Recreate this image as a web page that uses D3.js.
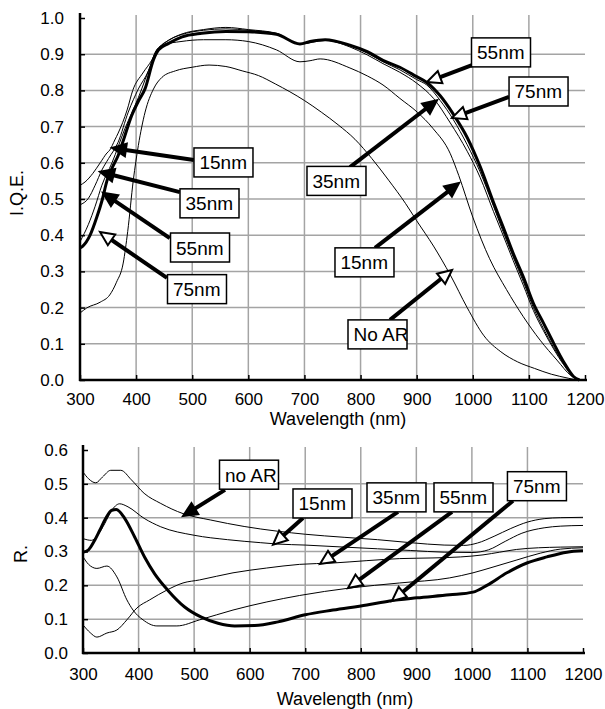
<!DOCTYPE html>
<html>
<head>
<meta charset="utf-8">
<script src="https://cdn.jsdelivr.net/npm/d3@7"></script>
<style>
    body { margin: 0; background: #fff; }
    svg { display: block; font-family: "Liberation Sans", Arial, sans-serif; }
    .grid { stroke: #a4a4a4; stroke-width: 1.5; }
    .axisline { stroke: #000; stroke-width: 2.5; }
    .curve { fill: none; stroke: #000; stroke-linejoin: round; }
    .tick line { stroke: #000; stroke-width: 1.5; }
    .tick text { fill: #000; }
    .note rect { fill: #fff; stroke: #000; stroke-width: 1.5; }
    .note line { stroke: #000; stroke-width: 4; }
</style>
</head>
<body>
<svg id="chart" width="605" height="709"></svg>
<script>

// ---------- data ----------
var wlTicks = [300, 400, 500, 600, 700, 800, 900, 1000, 1100, 1200];
var iqeTicks = [0, 0.1, 0.2, 0.3, 0.4, 0.5, 0.6, 0.7, 0.8, 0.9, 1.0];
var reflTicks = [0, 0.1, 0.2, 0.3, 0.4, 0.5, 0.6];

// internal quantum efficiency, [wavelength nm, IQE]
var iqeNoAR = [[300,0.185],[312,0.199],[336,0.215],[353,0.235],[365,0.27],[377,0.323],[385,0.41],[395,0.552],[404,0.648],[416,0.74],[431,0.804],[446,0.836],[470,0.854],[500,0.864],[530,0.87],[560,0.866],[589,0.854],[618,0.841],[648,0.818],[700,0.772],[730,0.74],[760,0.705],[790,0.665],[820,0.612],[850,0.552],[880,0.488],[900,0.44],[930,0.37],[960,0.29],[990,0.2],[1020,0.122],[1050,0.078],[1080,0.05],[1110,0.032],[1140,0.016],[1170,0.005],[1185,0]];
var iqe15 = [[300,0.538],[309,0.547],[323,0.571],[336,0.6],[348,0.627],[353,0.635],[362,0.663],[368,0.682],[384,0.746],[394,0.8],[412,0.848],[428,0.884],[437,0.912],[450,0.926],[480,0.935],[520,0.94],[560,0.94],[600,0.935],[650,0.912],[692,0.879],[710,0.882],[728,0.887],[781,0.862],[812,0.84],[840,0.815],[870,0.778],[901,0.74],[929,0.695],[960,0.625],[975,0.565],[1000,0.45],[1030,0.335],[1060,0.25],[1090,0.175],[1120,0.11],[1150,0.055],[1175,0.012],[1188,0]];
var iqe35 = [[300,0.484],[315,0.502],[327,0.538],[339,0.58],[351,0.612],[368,0.657],[386,0.74],[404,0.804],[422,0.854],[434,0.905],[450,0.93],[480,0.955],[520,0.968],[560,0.974],[600,0.968],[650,0.958],[692,0.928],[737,0.938],[781,0.92],[812,0.898],[840,0.874],[870,0.85],[900,0.82],[930,0.778],[960,0.71],[990,0.632],[1013,0.56],[1037,0.465],[1054,0.4],[1072,0.33],[1090,0.262],[1108,0.192],[1126,0.136],[1144,0.086],[1162,0.042],[1180,0.008],[1190,0]];
var iqe55 = [[300,0.382],[315,0.43],[327,0.48],[339,0.538],[357,0.6],[380,0.694],[404,0.78],[428,0.877],[440,0.915],[460,0.94],[490,0.958],[520,0.966],[560,0.97],[600,0.966],[650,0.957],[692,0.929],[737,0.94],[781,0.923],[812,0.903],[840,0.879],[870,0.857],[900,0.83],[918,0.815],[942,0.772],[965,0.72],[990,0.65],[1013,0.575],[1037,0.48],[1054,0.41],[1072,0.34],[1090,0.272],[1108,0.2],[1126,0.142],[1144,0.09],[1162,0.045],[1180,0.008],[1190,0]];
var iqe75 = [[300,0.365],[305,0.37],[318,0.4],[330,0.45],[340,0.5],[348,0.55],[357,0.585],[368,0.62],[380,0.675],[392,0.73],[404,0.77],[416,0.805],[431,0.885],[440,0.912],[458,0.93],[482,0.948],[517,0.958],[560,0.963],[600,0.962],[650,0.955],[692,0.928],[710,0.935],[737,0.94],[781,0.925],[812,0.907],[840,0.883],[870,0.864],[900,0.838],[918,0.822],[942,0.785],[965,0.735],[990,0.67],[1013,0.59],[1037,0.49],[1054,0.423],[1072,0.35],[1090,0.285],[1108,0.212],[1126,0.157],[1144,0.102],[1162,0.05],[1180,0.009],[1190,0]];

// reflectance, [wavelength nm, R]
var rNoAR = [[300,0.535],[310,0.515],[323,0.503],[335,0.52],[350,0.54],[368,0.54],[387,0.512],[410,0.472],[440,0.442],[480,0.412],[530,0.393],[590,0.374],[650,0.36],[700,0.351],[770,0.342],[830,0.335],[890,0.326],[950,0.319],[985,0.318],[1010,0.325],[1040,0.345],[1070,0.368],[1100,0.387],[1130,0.397],[1160,0.4],[1200,0.401]];
var r15 = [[300,0.338],[315,0.333],[328,0.352],[339,0.382],[351,0.42],[366,0.441],[381,0.432],[410,0.398],[440,0.373],[500,0.348],[560,0.335],[620,0.326],[650,0.322],[700,0.319],[770,0.313],[830,0.308],[890,0.303],[950,0.298],[1000,0.297],[1030,0.305],[1060,0.33],[1090,0.354],[1130,0.37],[1160,0.375],[1200,0.377]];
var r35 = [[300,0.083],[313,0.06],[325,0.047],[343,0.059],[361,0.068],[379,0.098],[397,0.133],[420,0.157],[451,0.186],[480,0.207],[510,0.216],[570,0.237],[630,0.251],[690,0.262],[750,0.266],[811,0.273],[870,0.279],[930,0.281],[980,0.284],[1020,0.29],[1050,0.298],[1080,0.306],[1120,0.311],[1160,0.313],[1200,0.314]];
var r55 = [[300,0.285],[310,0.262],[325,0.25],[343,0.257],[361,0.225],[379,0.157],[390,0.127],[408,0.098],[433,0.08],[469,0.08],[510,0.098],[570,0.127],[631,0.151],[690,0.17],[780,0.192],[870,0.207],[960,0.222],[1002,0.237],[1038,0.254],[1081,0.275],[1123,0.295],[1159,0.307],[1200,0.311]];
var r75 = [[300,0.298],[310,0.305],[320,0.33],[330,0.362],[340,0.395],[352,0.422],[360,0.424],[375,0.398],[393,0.343],[411,0.283],[429,0.234],[453,0.185],[483,0.136],[513,0.106],[543,0.088],[573,0.08],[609,0.081],[651,0.092],[700,0.113],[750,0.127],[811,0.142],[852,0.154],[901,0.163],[960,0.172],[1002,0.18],[1027,0.2],[1063,0.237],[1099,0.266],[1135,0.284],[1171,0.298],[1200,0.302]];

// call-outs: label, box centre, arrow tail, arrow tip (all in data units)
var iqeNotes = [
    ["15nm", [555.7, 0.601], [503, 0.608], [357, 0.641]],
    ["35nm", [530.8, 0.488], [478, 0.519], [335.6, 0.575]],
    ["55nm", [513.9, 0.366], [460, 0.392], [341, 0.517]],
    ["75nm", [508.5, 0.251], [455, 0.282], [335.6, 0.409]],
    ["55nm", [1050.3, 0.905], [998.6, 0.870], [918.4, 0.823]],
    ["75nm", [1117.2, 0.797], [1064.6, 0.782], [963, 0.724]],
    ["35nm", [757.1, 0.550], [781.2, 0.588], [936.3, 0.773]],
    ["15nm", [807.0, 0.325], [825.8, 0.365], [975.5, 0.544]],
    ["No AR", [830.2, 0.126], [852.5, 0.166], [963, 0.304]]
];
var reflNotes = [
    ["no AR", [598.8, 0.527], [555.6, 0.482], [480, 0.405]],
    ["15nm", [731.1, 0.442], [696, 0.399], [642, 0.320]],
    ["35nm", [864.3, 0.460], [867, 0.417], [726.6, 0.263]],
    ["55nm", [984.9, 0.460], [964.2, 0.417], [777, 0.192]],
    ["75nm", [1117.1, 0.493], [1074, 0.450], [856.2, 0.154]]
];

// which call-outs have an open (white) arrow head
var iqeHollow = [false, false, false, true, true, true, false, false, true];
var reflHollow = [false, true, true, true, true];

var svg = d3.select("#chart");
svg.append("rect").attr("width", 605).attr("height", 709).attr("fill", "#fff");

/**
 * Draws one panel: grid, axes, curves and the boxed call-outs.
 */
function drawPanel(cfg) {
    var x = d3.scaleLinear().domain([300, 1200]).range([cfg.left, cfg.right]);
    var y = d3.scaleLinear().domain([0, cfg.yMax]).range([cfg.bottom, cfg.top]);
    var g = svg.append("g");

    //grid lines (none on the outer edges)
    g.selectAll(".hgrid").data(cfg.yTicks.filter(function (t) { return t > 0 && t < cfg.yMax - 1e-6; }))
        .enter().append("line")
        .attr("class", "grid")
        .attr("x1", x(300)).attr("x2", x(1200))
        .attr("y1", function (d) { return y(d); })
        .attr("y2", function (d) { return y(d); });

    g.selectAll(".vgrid").data(wlTicks.filter(function (t) { return t > 300 && t < 1200; }))
        .enter().append("line")
        .attr("class", "grid")
        .attr("y1", y(cfg.yMax) - 3).attr("y2", y(0))
        .attr("x1", function (d) { return x(d); })
        .attr("x2", function (d) { return x(d); });

    //axes with inward ticks
    var xAxis = d3.axisBottom(x).tickValues(wlTicks).tickSize(-5).tickSizeOuter(0)
        .tickPadding(cfg.xPad).tickFormat(d3.format("d"));
    var gx = g.append("g").attr("transform", "translate(0," + y(0) + ")").call(xAxis);
    gx.select(".domain").remove();

    var yAxis = d3.axisLeft(y).tickValues(cfg.yTicks).tickSize(-5).tickSizeOuter(0)
        .tickPadding(cfg.yPad).tickFormat(d3.format(".1f"));
    var gy = g.append("g").attr("transform", "translate(" + x(300) + ",0)").call(yAxis);
    gy.select(".domain").remove();

    g.selectAll(".tick text")
        .attr("font-family", "'Liberation Sans', Arial, sans-serif")
        .attr("font-size", 17);

    g.append("line").attr("class", "axisline")
        .attr("x1", x(300)).attr("x2", x(300))
        .attr("y1", y(cfg.yMax) - 5).attr("y2", y(0) + 1);
    g.append("line").attr("class", "axisline")
        .attr("x1", x(300) - 1).attr("x2", x(1200) + 2)
        .attr("y1", y(0)).attr("y2", y(0));

    //axis titles
    g.append("text")
        .attr("x", cfg.xTitleX).attr("y", cfg.xTitleY)
        .attr("text-anchor", "middle").attr("font-size", 18)
        .text("Wavelength (nm)");
    g.append("text")
        .attr("transform", "translate(" + cfg.yTitleX + "," + cfg.yTitleY + ") rotate(-90)")
        .attr("text-anchor", "middle").attr("font-size", 18)
        .text(cfg.yTitle);

    //curves
    var line = d3.line()
        .curve(d3.curveMonotoneX)
        .x(function (d) { return x(d[0]); })
        .y(function (d) { return y(d[1]); });

    cfg.series.forEach(function (s) {
        g.append("path")
            .datum(s.pts)
            .attr("class", "curve")
            .attr("stroke-width", s.w)
            .attr("d", line);
    });

    //call-outs: arrow first, then the box on top of it
    var headLen = 14, headHalf = 6.5, boxW = 59, boxH = 29;
    cfg.notes.forEach(function (n, i) {
        var tx = x(n[2][0]), ty = y(n[2][1]);
        var px = x(n[3][0]), py = y(n[3][1]);
        var dx = px - tx, dy = py - ty;
        var len = Math.sqrt(dx * dx + dy * dy);
        var ux = dx / len, uy = dy / len;
        var bx = px - ux * headLen, by = py - uy * headLen;

        var note = g.append("g").attr("class", "note");
        note.append("line")
            .attr("x1", tx).attr("y1", ty)
            .attr("x2", bx + ux * 2).attr("y2", by + uy * 2);
        note.append("path")
            .attr("d", "M" + px + "," + py +
                "L" + (bx - uy * headHalf) + "," + (by + ux * headHalf) +
                "L" + (bx + uy * headHalf) + "," + (by - ux * headHalf) + "Z")
            .attr("fill", cfg.hollow[i] ? "#fff" : "#000")
            .attr("stroke", "#000")
            .attr("stroke-width", 2)
            .attr("stroke-linejoin", "miter");

        var cx = x(n[1][0]), cy = y(n[1][1]);
        note.append("rect")
            .attr("x", cx - boxW / 2).attr("y", cy - boxH / 2)
            .attr("width", boxW).attr("height", boxH);
        note.append("text")
            .attr("x", cx - boxW / 2 + 5.5).attr("y", cy + 7)
            .attr("font-size", 19)
            .text(n[0]);
    });
}

drawPanel({
    left: 80, right: 585, top: 18, bottom: 380, yMax: 1.0,
    yTicks: iqeTicks, xPad: 13, yPad: 16,
    xTitleX: 338, xTitleY: 425, yTitle: "I.Q.E.", yTitleX: 23, yTitleY: 193,
    series: [
        {pts: iqeNoAR, w: 1}, {pts: iqe15, w: 1}, {pts: iqe35, w: 1},
        {pts: iqe55, w: 1}, {pts: iqe75, w: 3}
    ],
    notes: iqeNotes, hollow: iqeHollow
});

drawPanel({
    left: 83, right: 583, top: 450, bottom: 653, yMax: 0.6,
    yTicks: reflTicks, xPad: 15, yPad: 15,
    xTitleX: 345, xTitleY: 705, yTitle: "R.", yTitleX: 27, yTitleY: 554,
    series: [
        {pts: rNoAR, w: 1}, {pts: r15, w: 1}, {pts: r35, w: 1},
        {pts: r55, w: 1}, {pts: r75, w: 3}
    ],
    notes: reflNotes, hollow: reflHollow
});

</script>
</body>
</html>
